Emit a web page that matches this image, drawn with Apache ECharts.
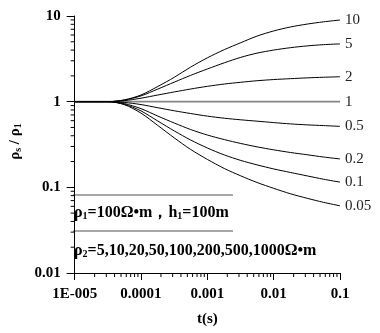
<!DOCTYPE html>
<html>
<head>
<meta charset="utf-8">
<script src="https://cdn.jsdelivr.net/npm/echarts@6/dist/echarts.min.js"></script>
<style>
  html, body { margin: 0; padding: 0; background: #fff; }
  #chart { width: 380px; height: 333px; }
</style>
</head>
<body>
<div id="chart"></div>
<script>
// time axis (s), about 4 points per decade
const times = [1e-5, 1.8e-5, 3.2e-5, 5.6e-5, 1e-4, 1.8e-4, 3.2e-4, 5.6e-4, 1e-3, 1.8e-3, 3.2e-3, 5.6e-3, 1e-2, 1.8e-2, 3.2e-2, 5.6e-2, 1e-1]
// rho_s / rho_1 for each rho_2 / rho_1 ratio
const r10 = [1, 1, 1, 1.049, 1.197, 1.506, 1.932, 2.532, 3.249, 4.046, 4.88, 5.82, 6.69, 7.45, 8.05, 8.54, 8.98]
const r5 = [1, 1, 1, 1.044, 1.168, 1.405, 1.695, 2.028, 2.407, 2.841, 3.291, 3.684, 4.003, 4.268, 4.479, 4.626, 4.726]
const r2 = [1, 1, 1, 1.027, 1.098, 1.197, 1.3, 1.405, 1.51, 1.606, 1.685, 1.755, 1.812, 1.856, 1.896, 1.927, 1.953]
const r1 = [1, 1, 1, 1, 1, 1, 1, 1, 1, 1, 1, 1, 1, 1, 1, 1, 1]
const r05 = [1, 1, 1, 0.979, 0.925, 0.849, 0.782, 0.727, 0.678, 0.641, 0.614, 0.592, 0.57, 0.55, 0.536, 0.526, 0.515]
const r02 = [1, 1, 1, 0.95, 0.829, 0.678, 0.562, 0.473, 0.408, 0.361, 0.325, 0.297, 0.274, 0.255, 0.24, 0.226, 0.2145]
const r01 = [1, 1, 1, 0.933, 0.78, 0.593, 0.454, 0.357, 0.288, 0.239, 0.206, 0.183, 0.164, 0.149, 0.136, 0.1245, 0.115]
const r005 = [1, 1, 1, 0.923, 0.735, 0.526, 0.376, 0.277, 0.212, 0.166, 0.136, 0.114, 0.0974, 0.084, 0.0745, 0.0669, 0.0609]
const curveNames = ['10', '5', '2', '1', '0.5', '0.2', '0.1', '0.05']
const curveValues = [r10, r5, r2, r1, r05, r02, r01, r005]
// tick labels
const xTickLabels = ['1E-005', '0.0001', '0.001', '0.01', '0.1']
const yTickLabels = ['0.01', '0.1', '1', '10']

const xMin = 1e-5, xMax = 0.1, yMin = 0.01, yMax = 10
const serif = '"Liberation Serif", "Times New Roman", serif'

// minor (2..9) tick positions per decade
function minorTicks (lo, hi) {
  const out = []
  for (let d = Math.round(Math.log10(lo)); d < Math.round(Math.log10(hi)); d++) {
    for (let k = 2; k <= 9; k++) out.push(k * Math.pow(10, d))
  }
  return out
}
const xMinor = minorTicks(xMin, xMax)
const yMinor = minorTicks(yMin, yMax)

const chart = echarts.init(document.getElementById('chart'))

const seriesArr = curveValues.map((vals, i) => {
  const isOne = curveNames[i] === '1'
  return {
    name: curveNames[i],
    type: 'line',
    data: vals.map((v, j) => [times[j], v]),
    symbol: 'none',
    smooth: 0.3,
    z: isOne ? 1 : 2,
    lineStyle: {
      color: isOne ? '#858585' : '#000',
      width: isOne ? 1.6 : 1
    },
    endLabel: {
      show: true,
      formatter: '{a}',
      distance: 5,
      color: '#222',
      fontFamily: serif,
      fontSize: 15
    }
  }
})

// minor ticks drawn through the axes' own scales
seriesArr.push({
  type: 'custom',
  clip: false,
  silent: true,
  data: xMinor.map(t => [t, yMin]),
  renderItem: (params, api) => {
    const p = api.coord([api.value(0), api.value(1)])
    return { type: 'line', shape: { x1: p[0], y1: p[1], x2: p[0], y2: p[1] + 4 }, style: { stroke: '#000', lineWidth: 1 } }
  }
})
seriesArr.push({
  type: 'custom',
  clip: false,
  silent: true,
  data: yMinor.map(v => [xMin, v]),
  renderItem: (params, api) => {
    const p = api.coord([api.value(0), api.value(1)])
    return { type: 'line', shape: { x1: p[0] - 4, y1: p[1], x2: p[0], y2: p[1] }, style: { stroke: '#000', lineWidth: 1 } }
  }
})

const option = {
  animation: false,
  grid: { left: 65, right: 40, top: 16, bottom: 60 },
  xAxis: {
    type: 'log',
    min: xMin,
    max: xMax,
    name: 't(s)',
    nameLocation: 'middle',
    nameGap: 39,
    nameTextStyle: { fontFamily: serif, fontWeight: 'bold', fontSize: 15, color: '#000' },
    axisLine: { lineStyle: { color: '#000', width: 1 } },
    axisTick: { length: 7, lineStyle: { color: '#000' } },
    splitLine: { show: false },
    axisLabel: {
      margin: 14,
      fontFamily: serif,
      fontWeight: 'bold',
      fontSize: 15,
      color: '#000',
      formatter: (v) => xTickLabels[Math.round(Math.log10(v)) + 5]
    }
  },
  yAxis: {
    type: 'log',
    min: yMin,
    max: yMax,
    name: '{a|ρ}{s|s}{a| / ρ}{s|1}',
    nameLocation: 'middle',
    nameRotate: 90,
    nameGap: 51,
    nameTextStyle: {
      padding: [0, 0, 0, 6],
      rich: {
        a: { fontFamily: serif, fontWeight: 'bold', fontSize: 15, color: '#000' },
        s: { fontFamily: serif, fontWeight: 'bold', fontSize: 10, color: '#000', padding: [6, 0, 0, 0] }
      }
    },
    axisLine: { show: true, lineStyle: { color: '#000', width: 1 } },
    axisTick: { show: true, length: 8, lineStyle: { color: '#000' } },
    splitLine: { show: false },
    axisLabel: {
      margin: 14,
      fontFamily: serif,
      fontWeight: 'bold',
      fontSize: 15,
      color: '#000',
      formatter: (v) => yTickLabels[Math.round(Math.log10(v)) + 2]
    }
  },
  graphic: [
    { type: 'line', shape: { x1: 73, y1: 195, x2: 233, y2: 195 }, style: { stroke: '#8a8a8a', lineWidth: 1.5 } },
    {
      type: 'text', left: 74, top: 205,
      style: {
        text: '{a|ρ}{s|1}{a|=100Ω•m，h}{s|1}{a|=100m}',
        rich: {
          a: { fontFamily: serif, fontWeight: 'bold', fontSize: 16, fill: '#000' },
          s: { fontFamily: serif, fontWeight: 'bold', fontSize: 10, fill: '#000', padding: [7, 0, 0, 0] }
        }
      }
    },
    { type: 'line', shape: { x1: 73, y1: 231, x2: 233, y2: 231 }, style: { stroke: '#8a8a8a', lineWidth: 1.5 } },
    {
      type: 'text', left: 74, top: 243,
      style: {
        text: '{a|ρ}{s|2}{a|=5,10,20,50,100,200,500,1000Ω•m}',
        rich: {
          a: { fontFamily: serif, fontWeight: 'bold', fontSize: 16, fill: '#000' },
          s: { fontFamily: serif, fontWeight: 'bold', fontSize: 10, fill: '#000', padding: [7, 0, 0, 0] }
        }
      }
    }
  ],
  series: seriesArr
}
chart.setOption(option)
</script>
</body>
</html>
